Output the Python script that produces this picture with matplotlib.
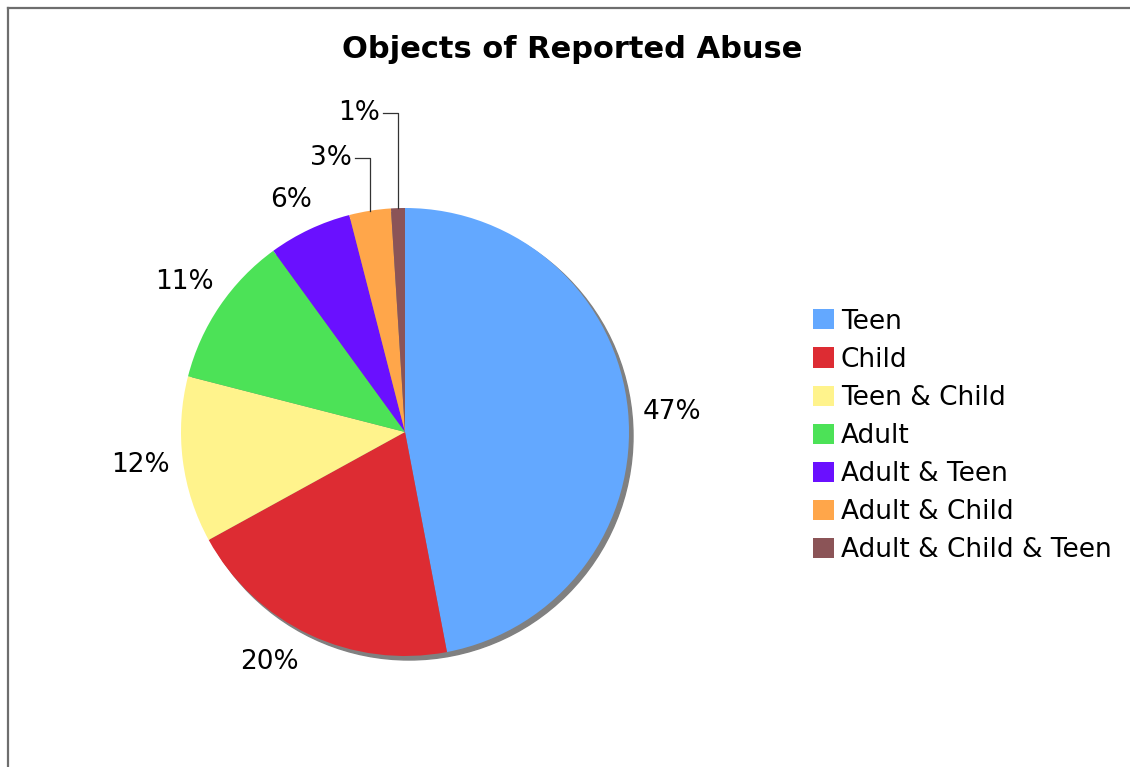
import matplotlib
matplotlib.use("Agg")
import matplotlib.pyplot as plt
import numpy as np
from matplotlib.lines import Line2D
from matplotlib.patches import Circle

# data
categories = ["Teen", "Child", "Teen & Child", "Adult", "Adult & Teen",
              "Adult & Child", "Adult & Child & Teen"]
shares = [47, 20, 12, 11, 6, 3, 1]
colors = ["#63a8ff", "#dd2c33", "#fff38c", "#4ce257", "#6a10ff",
          "#ffa64a", "#8b5457"]
title = "Objects of Reported Abuse"

W, H = 1130, 767
fig = plt.figure(figsize=(W / 100, H / 100), dpi=100)

# pie center (405, 432) px, radius 224 px
cx, cy, R = 405, 432, 224
half = 260
ax = fig.add_axes([(cx - half) / W, (H - cy - half) / H, 2 * half / W, 2 * half / H])

# flat gray drop shadow
ax.add_patch(Circle((4 / R, -4 / R), 1.0, color="#808080", zorder=0))

wedges, _ = ax.pie(shares, colors=colors, startangle=90, counterclock=False,
                   radius=1.0, wedgeprops={"linewidth": 0, "zorder": 1})

lim = half / R
ax.set_xlim(-lim, lim)
ax.set_ylim(-lim, lim)
ax.set_aspect("equal")
ax.axis("off")

fs = 19
# small pixel nudges (x right, y down) for a few labels, as in the original
nudge = {0: (2, 5), 1: (-22, -11), 4: (0, 9)}
for i, (w, v) in enumerate(zip(wedges, shares)):
    ang = np.deg2rad((w.theta1 + w.theta2) / 2)
    x, y = np.cos(ang), np.sin(ang)
    if v >= 5:
        d = 1.19
        nx, ny = nudge.get(i, (0, 0))
        ax.text(d * x + nx / R, d * y - ny / R, f"{v}%", ha="center",
                va="center", fontsize=fs)
    else:
        # leader line: up from the rim, then left to the label
        ly = 1.223 if v == 3 else 1.424
        ax.plot([x, x, x - 0.065], [y, ly, ly], color="#333333", lw=0.9,
                zorder=3, clip_on=False)
        ax.text(x - 0.08, ly, f"{v}%", ha="right", va="center", fontsize=fs)

fig.text(572 / W, 1 - 50 / H, title, ha="center", va="center",
         fontsize=22, fontweight="bold")

fig.legend(wedges, categories, loc="upper left",
           bbox_to_anchor=(802 / W, 1 - 298 / H), frameon=False,
           fontsize=fs, handlelength=0.8, handleheight=0.8,
           handletextpad=0.27, labelspacing=0.46, borderaxespad=0)

# frame lines on top and left
fig.add_artist(Line2D([8 / W, 8 / W], [0, 1 - 8 / H], color="#6e6e6e", lw=1.6))
fig.add_artist(Line2D([8 / W, 1], [1 - 8 / H, 1 - 8 / H], color="#6e6e6e", lw=1.6))

fig.savefig("out.png", dpi=100)
